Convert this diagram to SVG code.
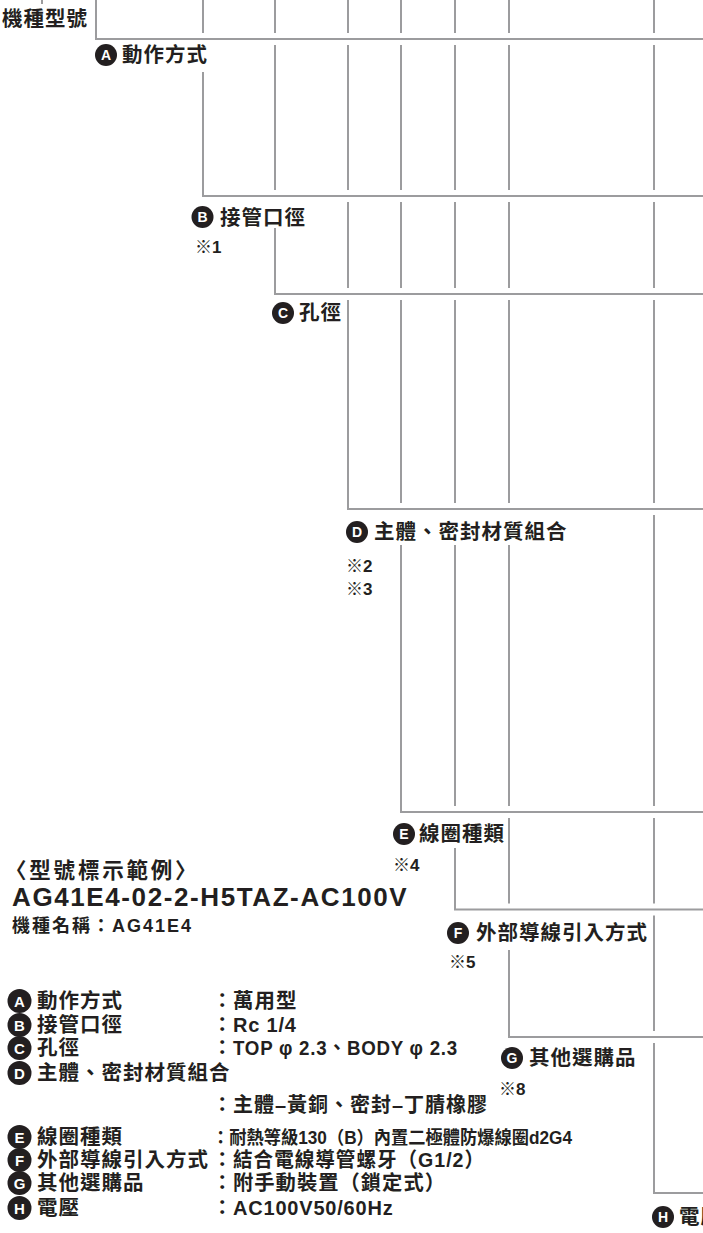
<svg xmlns="http://www.w3.org/2000/svg" width="703" height="1233" viewBox="0 0 703 1233">
<style>
.ln{fill:none;stroke:#9c9c9e;stroke-width:2}
.t{font-family:"Liberation Sans","Noto Sans CJK TC",sans-serif;font-size:20.5px;font-weight:700;letter-spacing:1px;fill:#231f20}
.lat{font-family:"Liberation Sans","Noto Sans CJK TC",sans-serif;font-size:20px;font-weight:700;letter-spacing:0.8px;fill:#231f20}
.note{font-family:"Liberation Sans","Noto Sans CJK TC",sans-serif;font-size:17px;font-weight:700;fill:#231f20}
.km{font-family:"Noto Sans CJK TC",sans-serif}
.bd{fill:#231f20}
.bl{font-family:"Liberation Sans",Arial,sans-serif;font-size:14px;font-weight:bold;fill:#fff;text-anchor:middle}
.bl2{font-family:"Liberation Sans",Arial,sans-serif;font-size:15px;font-weight:bold;fill:#fff;text-anchor:middle}
</style>
<g id="connectors">
<path class="ln" d="M42,0V4"/>
<path class="ln" d="M96,0V39H703"/>
<path class="ln" d="M203,0V33M203,72V196H703"/>
<path class="ln" d="M275,0V33M275,45V190M275,228V294H703"/>
<path class="ln" d="M348,0V33M348,45V190M348,202V288M348,300V509H703"/>
<path class="ln" d="M401,0V33M401,45V190M401,202V288M401,300V503M401,545V812H703"/>
<path class="ln" d="M455,0V33M455,45V190M455,202V288M455,300V503M455,545V806M455,848V909.5H703"/>
<path class="ln" d="M509,0V33M509,45V190M509,202V288M509,300V503M509,545V806M509,818V903.5M509,950V1037H703"/>
<path class="ln" d="M654,0V33M654,45V190M654,202V288M654,300V503M654,515V806M654,818V903.5M654,915.5V1031M654,1043V1193H703"/>
</g>
<g id="node-model"><text class="t" x="2" y="26">機種型號</text></g>
<g id="node-A"><circle class="bd" cx="106" cy="55" r="11"/><text class="bl" x="106" y="60">A</text><text class="t" x="122" y="62">動作方式</text></g>
<g id="node-B"><circle class="bd" cx="202.5" cy="217" r="11"/><text class="bl" x="202.5" y="222">B</text><text class="t" x="220" y="224.5">接管口徑</text><text class="note" x="195" y="253"><tspan class="km">※</tspan>1</text></g>
<g id="node-C"><circle class="bd" cx="283" cy="313" r="11"/><text class="bl" x="283" y="318">C</text><text class="t" x="299" y="320">孔徑</text></g>
<g id="node-D"><circle class="bd" cx="357" cy="532" r="11"/><text class="bl" x="357" y="537">D</text><text class="t" x="374" y="539">主體、密封材質組合</text><text class="note" x="346" y="572"><tspan class="km">※</tspan>2</text><text class="note" x="346" y="595"><tspan class="km">※</tspan>3</text></g>
<g id="node-E"><circle class="bd" cx="404" cy="834" r="11"/><text class="bl" x="404" y="839">E</text><text class="t" x="419" y="841">線圈種類</text><text class="note" x="393" y="871"><tspan class="km">※</tspan>4</text></g>
<g id="node-F"><circle class="bd" cx="458" cy="933" r="11"/><text class="bl" x="458" y="938">F</text><text class="t" x="476" y="940">外部導線引入方式</text><text class="note" x="449" y="968"><tspan class="km">※</tspan>5</text></g>
<g id="node-G"><circle class="bd" cx="512" cy="1058" r="11"/><text class="bl" x="512" y="1063">G</text><text class="t" x="529" y="1065">其他選購品</text><text class="note" x="499" y="1095"><tspan class="km">※</tspan>8</text></g>
<g id="node-H"><circle class="bd" cx="663" cy="1217" r="11"/><text class="bl" x="663" y="1222">H</text><text class="t" x="679" y="1224">電壓</text></g>
<g id="example">
<text class="t" x="5" y="878" style="font-size:21.5px;letter-spacing:2.8px">〈型號標示範例〉</text>
<text x="12" y="906" style="font-family:'Liberation Sans',Arial,sans-serif;font-size:26px;font-weight:bold;letter-spacing:1.6px;fill:#231f20">AG41E4-02-2-H5TAZ-AC100V</text>
<text class="t" x="12" y="932" style="font-size:18px;letter-spacing:2px">機種名稱：AG41E4</text>
</g>
<g id="legend">
<circle class="bd" cx="19.5" cy="1001" r="12"/><text class="bl2" x="19.5" y="1006.5">A</text><text class="t" x="37" y="1008">動作方式</text><text class="t" x="212" y="1008">：</text><text class="t" x="233" y="1008">萬用型</text>
<circle class="bd" cx="19.5" cy="1025" r="12"/><text class="bl2" x="19.5" y="1030.5">B</text><text class="t" x="37" y="1032">接管口徑</text><text class="t" x="212" y="1032">：</text><text class="lat" x="233" y="1032">Rc 1/4</text>
<circle class="bd" cx="19.5" cy="1048" r="12"/><text class="bl2" x="19.5" y="1053.5">C</text><text class="t" x="37" y="1055">孔徑</text><text class="t" x="212" y="1055">：</text><text class="lat" x="233" y="1055" textLength="225" lengthAdjust="spacingAndGlyphs">TOP φ 2.3、BODY φ 2.3</text>
<circle class="bd" cx="19.5" cy="1073" r="12"/><text class="bl2" x="19.5" y="1078.5">D</text><text class="t" x="37" y="1080">主體、密封材質組合</text>
<text class="t" x="212" y="1112">：</text><text class="t" x="233" y="1112" textLength="255" lengthAdjust="spacingAndGlyphs">主體–黃銅、密封–丁腈橡膠</text>
<circle class="bd" cx="19.5" cy="1137" r="12"/><text class="bl2" x="19.5" y="1142.5">E</text><text class="t" x="37" y="1144">線圈種類</text><text class="t" x="212" y="1144" style="font-size:18px;letter-spacing:0" textLength="360" lengthAdjust="spacingAndGlyphs">：耐熱等級130（B）內置二極體防爆線圈d2G4</text>
<circle class="bd" cx="19.5" cy="1160" r="12"/><text class="bl2" x="19.5" y="1165.5">F</text><text class="t" x="37" y="1167">外部導線引入方式</text><text class="t" x="212" y="1167">：</text><text class="t" x="233" y="1167" textLength="252" lengthAdjust="spacingAndGlyphs">結合電線導管螺牙（G1/2）</text>
<circle class="bd" cx="19.5" cy="1183" r="12"/><text class="bl2" x="19.5" y="1188.5">G</text><text class="t" x="37" y="1190">其他選購品</text><text class="t" x="212" y="1190">：</text><text class="t" x="233" y="1190" textLength="213" lengthAdjust="spacingAndGlyphs">附手動裝置（鎖定式）</text>
<circle class="bd" cx="19.5" cy="1208" r="12"/><text class="bl2" x="19.5" y="1213.5">H</text><text class="t" x="37" y="1215">電壓</text><text class="t" x="212" y="1215">：</text><text class="lat" x="233" y="1215">AC100V50/60Hz</text>
</g>
</svg>
